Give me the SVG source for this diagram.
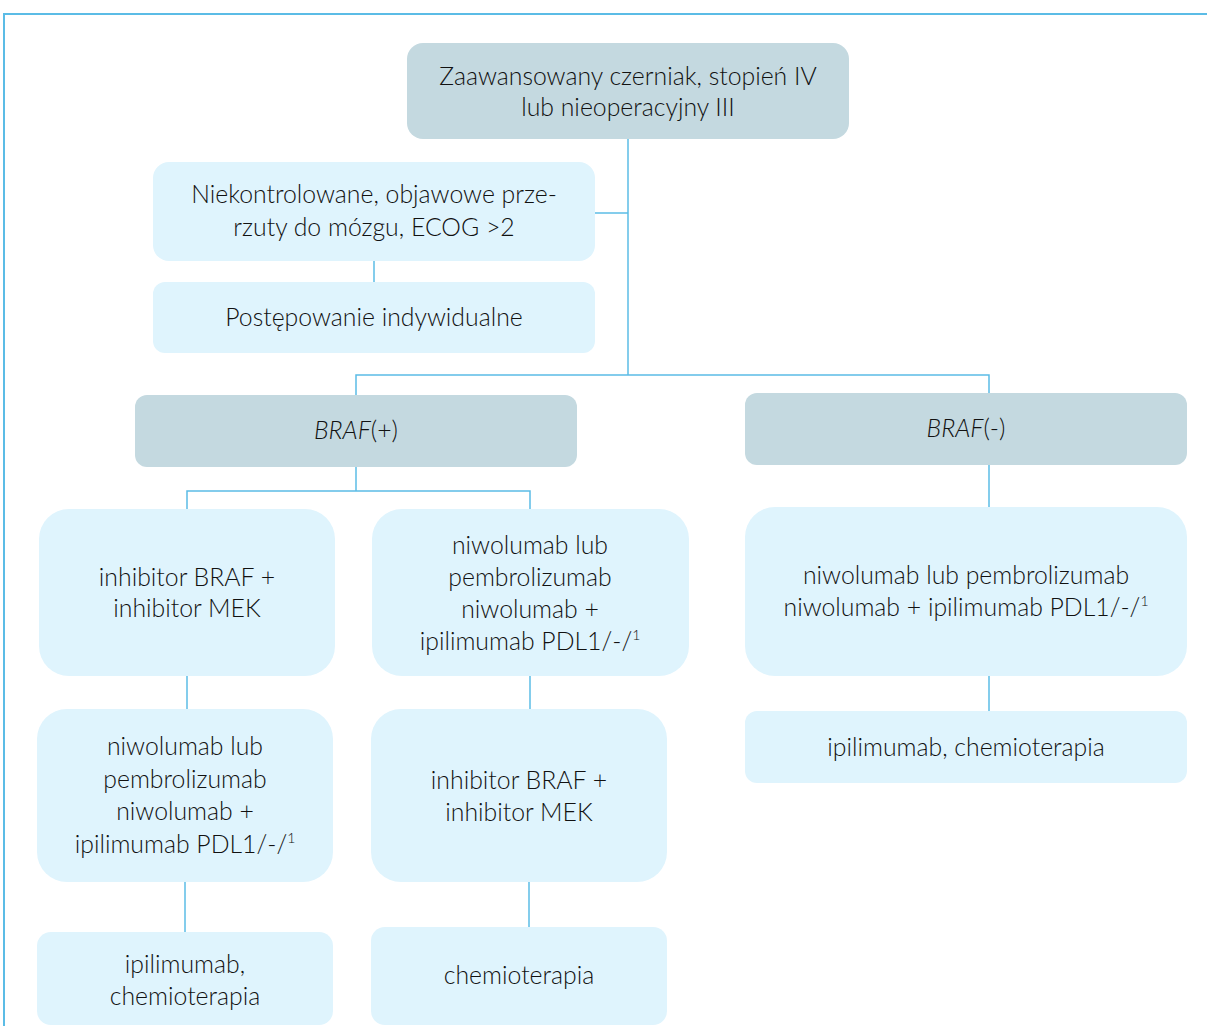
<svg xmlns="http://www.w3.org/2000/svg" width="1207" height="1026" viewBox="0 0 1207 1026">
<style>
.dark{fill:#c4d9e0}
.light{fill:#dff4fd}
text{font-family:Lato,"Open Sans","Liberation Sans",sans-serif;font-weight:300;font-size:24.8px;fill:#111;text-anchor:middle}
.sup{font-size:14px}
.conn{stroke:#5bbce6;stroke-width:1.5;fill:none}
.frame{stroke:#5bbce6;stroke-width:2;fill:none}
</style>
<rect width="1207" height="1026" fill="#ffffff"/>
<path class="frame" d="M4 1026 V14 H1207"/>
<g id="connectors">
<path class="conn" d="M628 139 V375"/>
<path class="conn" d="M595 213 H628"/>
<path class="conn" d="M374 261 V282"/>
<path class="conn" d="M356 395 V375 H989 V393"/>
<path class="conn" d="M356 467 V491"/>
<path class="conn" d="M187 509 V491 H530 V509"/>
<path class="conn" d="M187 676 V709"/>
<path class="conn" d="M530 676 V709"/>
<path class="conn" d="M185 882 V932"/>
<path class="conn" d="M529 882 V927"/>
<path class="conn" d="M989 465 V507"/>
<path class="conn" d="M989 676 V711"/>
</g>
<g id="n1">
<rect class="dark" x="407" y="43" width="442" height="96" rx="16"/>
<text x="628" y="85">Zaawansowany czerniak, stopień IV</text>
<text x="628" y="116">lub nieoperacyjny III</text>
</g>
<g id="n2">
<rect class="light" x="153" y="162" width="442" height="99" rx="16"/>
<text x="374" y="203">Niekontrolowane, objawowe prze-</text>
<text x="374" y="236">rzuty do mózgu, ECOG &gt;2</text>
</g>
<g id="n3">
<rect class="light" x="153" y="282" width="442" height="71" rx="12"/>
<text x="374" y="326">Postępowanie indywidualne</text>
</g>
<g id="n4">
<rect class="dark" x="135" y="395" width="442" height="72" rx="12"/>
<text x="356" y="439"><tspan font-style="italic">BRAF</tspan>(+)</text>
</g>
<g id="n5">
<rect class="dark" x="745" y="393" width="442" height="72" rx="12"/>
<text x="966" y="437"><tspan font-style="italic">BRAF</tspan>(-)</text>
</g>
<g id="n6">
<rect class="light" x="39" y="509" width="296" height="167" rx="30"/>
<text x="187" y="586">inhibitor BRAF +</text>
<text x="187" y="617">inhibitor MEK</text>
</g>
<g id="n7">
<rect class="light" x="372" y="509" width="317" height="167" rx="30"/>
<text x="530" y="554">niwolumab lub</text>
<text x="530" y="586">pembrolizumab</text>
<text x="530" y="618">niwolumab +</text>
<text x="530" y="650">ipilimumab PDL1/-/<tspan class="sup" dy="-10">1</tspan></text>
</g>
<g id="n8">
<rect class="light" x="37" y="709" width="296" height="173" rx="30"/>
<text x="185" y="755">niwolumab lub</text>
<text x="185" y="788">pembrolizumab</text>
<text x="185" y="820">niwolumab +</text>
<text x="185" y="853">ipilimumab PDL1/-/<tspan class="sup" dy="-10">1</tspan></text>
</g>
<g id="n9">
<rect class="light" x="37" y="932" width="296" height="93" rx="14"/>
<text x="185" y="973">ipilimumab,</text>
<text x="185" y="1005">chemioterapia</text>
</g>
<g id="n10">
<rect class="light" x="371" y="709" width="296" height="173" rx="30"/>
<text x="519" y="789">inhibitor BRAF +</text>
<text x="519" y="821">inhibitor MEK</text>
</g>
<g id="n11">
<rect class="light" x="371" y="927" width="296" height="98" rx="14"/>
<text x="519" y="984">chemioterapia</text>
</g>
<g id="n12">
<rect class="light" x="745" y="507" width="442" height="169" rx="30"/>
<text x="966" y="584">niwolumab lub pembrolizumab</text>
<text x="966" y="616">niwolumab + ipilimumab PDL1/-/<tspan class="sup" dy="-10">1</tspan></text>
</g>
<g id="n13">
<rect class="light" x="745" y="711" width="442" height="72" rx="12"/>
<text x="966" y="756">ipilimumab, chemioterapia</text>
</g>
</svg>
